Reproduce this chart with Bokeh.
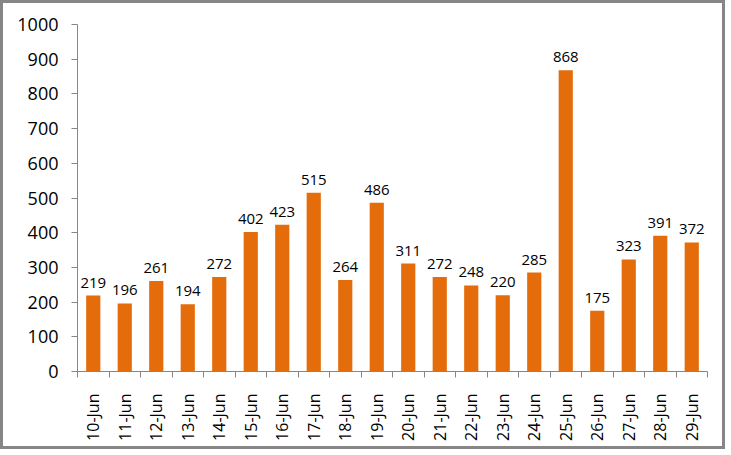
import math
from bokeh.plotting import figure
from bokeh.models import Range1d, FixedTicker, ColumnDataSource
from bokeh.core.properties import value
from bokeh.embed import file_html
from bokeh.resources import INLINE

# Daily counts, 10-Jun to 29-Jun
dates = ["10-Jun", "11-Jun", "12-Jun", "13-Jun", "14-Jun", "15-Jun", "16-Jun",
         "17-Jun", "18-Jun", "19-Jun", "20-Jun", "21-Jun", "22-Jun", "23-Jun",
         "24-Jun", "25-Jun", "26-Jun", "27-Jun", "28-Jun", "29-Jun"]
counts = [219, 196, 261, 194, 272, 402, 423, 515, 264, 486,
          311, 272, 248, 220, 285, 868, 175, 323, 391, 372]
y_ticks = [0, 100, 200, 300, 400, 500, 600, 700, 800, 900, 1000]

FONT = "Open Sans"
BAR = "#E46C0A"
AXIS = "#868686"

n = len(dates)
centers = [i + 0.5 for i in range(n)]
src = ColumnDataSource(dict(x=centers, y=counts, label=[str(c) for c in counts]))

# 725x449 canvas inside a 3px chart border -> 731x455 overall
p = figure(width=725, height=449, output_backend="svg", toolbar_location=None,
           x_range=Range1d(0, n), y_range=Range1d(0, 1000),
           min_border_left=74, min_border_right=21, min_border_top=21,
           min_border_bottom=81)
p.styles = {"border": f"3px solid {AXIS}"}
p.outline_line_color = None
p.xgrid.grid_line_color = None
p.ygrid.grid_line_color = None
p.background_fill_color = "white"
p.border_fill_color = "white"

p.vbar(x="x", top="y", width=0.45, source=src, fill_color=BAR, line_color=None)
p.text(x="x", y="y", text="label", source=src, text_align="center",
       text_baseline="alphabetic", y_offset=-13, text_font=value(FONT),
       text_font_size="15px", text_color="black")

# x axis: labels at category centres, tick marks at category boundaries
xa = p.xaxis[0]
xa.ticker = FixedTicker(ticks=centers, minor_ticks=list(range(n + 1)))
xa.major_label_overrides = {c: d for c, d in zip(centers, dates)}
xa.major_label_orientation = math.pi / 2
xa.major_tick_out = 0
xa.major_tick_in = 0
xa.minor_tick_out = 6
xa.minor_tick_in = 0
xa.minor_tick_line_color = AXIS
xa.axis_line_color = AXIS
xa.major_label_standoff = 16
xa.major_label_text_font = FONT
xa.major_label_text_font_size = "16px"
xa.major_label_text_color = "black"

ya = p.yaxis[0]
ya.ticker = FixedTicker(ticks=y_ticks)
ya.major_tick_out = 6
ya.major_tick_in = 0
ya.minor_tick_line_color = None
ya.major_tick_line_color = AXIS
ya.axis_line_color = AXIS
ya.major_label_standoff = 13
ya.major_label_text_font = FONT
ya.major_label_text_font_size = "18px"
ya.major_label_text_color = "black"

open("out.html", "w").write(file_html(p, INLINE))
